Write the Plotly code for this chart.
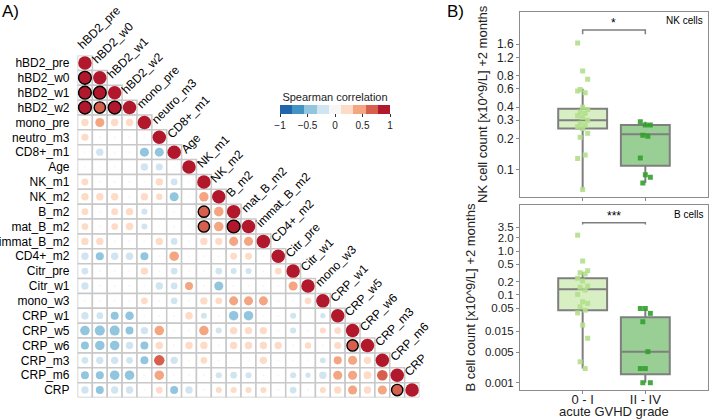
import math
import plotly.graph_objects as go

# ---- panel A: spearman correlation matrix (lower triangle) ----
labels = ["hBD2_pre", "hBD2_w0", "hBD2_w1", "hBD2_w2", "mono_pre", "neutro_m3",
          "CD8+_m1", "Age", "NK_m1", "NK_m2", "B_m2", "mat_B_m2", "immat_B_m2",
          "CD4+_m2", "Citr_pre", "Citr_w1", "mono_w3", "CRP_w1", "CRP_w5",
          "CRP_w6", "CRP_m3", "CRP_m6", "CRP"]

# row i holds the correlations with columns 0..i-1 (the diagonal is 1)
corr_rows = [
    [],
    [0.9],
    [0.9, 0.9],
    [0.9, 0.7, 0.9],
    [0.3, 0.45, 0.3, 0.3],
    [0.28, 0.03, 0.03, 0.03, 0.03],
    [0.03, -0.3, 0.03, 0.03, -0.45, -0.45],
    [0.02, 0.02, 0.02, 0.02, -0.3, -0.28, 0.02],
    [0.25, 0.03, 0.03, 0.03, 0.03, 0.3, -0.25, 0.02],
    [0.3, 0.3, 0.3, 0.04, 0.3, 0.22, -0.45, 0.02, 0.5],
    [0.25, 0.03, 0.25, 0.3, -0.2, 0.02, 0.03, 0.02, 0.7, 0.5],
    [0.25, 0.03, 0.25, 0.3, -0.2, 0.02, 0.03, 0.02, 0.7, 0.5, 0.9],
    [0.3, 0.3, 0.03, 0.03, 0.03, 0.3, -0.25, 0.03, 0.3, 0.28, 0.45, 0.45],
    [-0.3, -0.35, -0.3, -0.3, -0.35, 0.03, 0.5, 0.03, 0.03, 0.03, 0.25, 0.25, 0.03],
    [-0.25, 0.03, 0.03, 0.03, 0.3, 0.03, -0.25, 0.03, 0.03, -0.25, -0.2, -0.2, 0.03, 0.25],
    [-0.3, 0.03, 0.03, 0.03, 0.03, -0.3, -0.25, 0.35, 0.03, -0.45, 0.03, 0.03, 0.03, 0.03, 0.45],
    [0.03, 0.03, 0.03, 0.03, 0.25, 0.03, -0.25, 0.03, 0.3, 0.25, 0.45, 0.45, 0.45, 0.03, 0.03, 0.25],
    [-0.3, -0.25, -0.35, -0.4, 0.03, 0.03, 0.03, 0.3, -0.2, 0.03, -0.5, -0.5, 0.03, 0.03, -0.2, 0.02, -0.15],
    [-0.5, -0.55, -0.55, -0.35, -0.3, 0.5, 0.03, 0.03, 0.5, -0.2, 0.3, 0.3, 0.3, 0.03, -0.2, 0.03, 0.2, 0.25],
    [-0.35, -0.5, -0.5, -0.3, -0.35, 0.3, 0.03, 0.3, 0.3, 0.03, 0.3, 0.3, 0.3, 0.3, 0.03, 0.22, 0.03, 0.28, 0.7],
    [-0.25, -0.3, -0.3, -0.25, -0.35, 0.6, -0.3, 0.03, 0.25, 0.03, 0.02, 0.03, 0.3, 0.03, 0.03, 0.03, -0.18, 0.36, 0.45, 0.3],
    [-0.35, -0.35, -0.5, -0.5, 0.03, 0.5, 0.03, 0.03, 0.03, -0.2, -0.25, -0.2, 0.03, 0.03, -0.2, -0.15, -0.3, 0.45, 0.45, 0.33, 0.62],
    [-0.3, -0.35, -0.3, -0.3, 0.03, 0.25, -0.35, -0.3, 0.03, 0.2, 0.2, 0.2, 0.2, 0.03, -0.25, 0.03, 0.2, 0.3, 0.45, 0.3, 0.45, 0.7],
]
sig_cells = [(1, 0), (2, 0), (2, 1), (3, 0), (3, 1), (3, 2), (10, 8), (11, 8),
             (11, 10), (19, 18), (22, 21)]

bin_colors = ["#2166ac", "#4393c3", "#92c5de", "#d1e5f0", "#f7f7f7",
              "#fddbc7", "#f4a582", "#d6604d", "#b2182b"]
cbar_ticks = [-1, -0.5, 0, 0.5, 1]

# ---- panel B: cell counts by acute GVHD grade ----
groups = ["0 - I", "II - IV"]
nk_low = [1.65, 0.89, 0.74, 0.59, 0.55, 0.57, 0.4, 0.38, 0.36, 0.35, 0.33, 0.32,
          0.3, 0.28, 0.27, 0.26, 0.25, 0.225, 0.206, 0.139, 0.129, 0.065]
nk_high = [0.29, 0.27, 0.27, 0.215, 0.21, 0.13, 0.09, 0.085, 0.075]
b_low = [2.3, 0.59, 0.356, 0.32, 0.3, 0.24, 0.207, 0.16, 0.149, 0.129, 0.103,
         0.07, 0.064, 0.054, 0.045, 0.039, 0.0206, 0.0103, 0.003, 0.0021]
b_high = [0.049, 0.049, 0.038, 0.0245, 0.0051, 0.0021, 0.0021, 0.001, 0.001]

nk_q1, nk_med, nk_q3 = [0.25, 0.11], [0.30, 0.22], [0.386, 0.27]
nk_lo, nk_hi = [0.065, 0.075], [0.6, 0.29]
b_q1, b_med, b_q3 = [0.045, 0.00155], [0.134, 0.0051], [0.239, 0.031]
b_lo, b_hi = [0.0021, 0.001], [0.33, 0.049]

nk_ticks = [0.1, 0.2, 0.3, 0.4, 0.6, 0.8, 1.2, 1.6]
b_ticks = [0.001, 0.005, 0.015, 0.05, 0.1, 0.2, 0.5, 1.0, 2.0, 3.5]
b_ticktext = ["0.001", "0.005", "0.015", "0.05", "0.1", "0.2", "0.5", "1.0", "2.0", "3.5"]

light_green = "#b2df8a"
dark_green = "#33a02c"
FONT = "Arial"

fig = go.Figure()

# grid cells
n = len(labels)
shapes = []
for i in range(n):
    for j in range(i + 1):
        shapes.append(dict(type="rect", xref="x", yref="y",
                           x0=j - 0.5, x1=j + 0.5, y0=i - 0.5, y1=i + 0.5,
                           line=dict(color="#c8c8c8", width=1.5),
                           fillcolor="white", layer="below"))

xs, ys, vals, sizes, lw = [], [], [], [], []
for i, row in enumerate(corr_rows):
    for j, v in enumerate(row + [1.0]):
        xs.append(j)
        ys.append(i)
        vals.append(v)
        sizes.append(13.5 * abs(v) ** 0.5)
        lw.append(1.4 if (i, j) in sig_cells else 0)

cscale = []
nb = len(bin_colors)
for k, c in enumerate(bin_colors):
    cscale.append([k / nb, c])
    cscale.append([(k + 1) / nb, c])

fig.add_trace(go.Scatter(
    x=xs, y=ys, mode="markers", xaxis="x", yaxis="y", showlegend=False,
    marker=dict(size=sizes, color=vals, colorscale=cscale, cmin=-1, cmax=1,
                line=dict(width=lw, color="black"), opacity=1,
                colorbar=dict(orientation="h", x=0.4725, xanchor="center",
                              y=0.777, yanchor="top", len=110, lenmode="pixels",
                              thickness=9, ypad=0, xpad=0, outlinewidth=0,
                              tickvals=cbar_ticks, ticktext=["\u22121", "\u22120.5", "0", "0.5", "1"],
                              ticks="outside", ticklen=3, tickcolor="#333",
                              tickfont=dict(size=10, family=FONT, color="#222"),
                              title=dict(text="Spearman correlation", side="top",
                                         font=dict(size=11, family=FONT, color="#222"))),
                showscale=True),
    hoverinfo="skip"))

annotations = []
for j, lab in enumerate(labels):
    annotations.append(dict(x=j - 0.35, y=j - 0.5, xref="x", yref="y", text=lab,
                            showarrow=False, textangle=-45, xanchor="left",
                            yanchor="bottom", xshift=-8, yshift=1,
                            font=dict(size=12, family=FONT, color="black")))

# box plots
jit = [((k * 7) % 5 - 2) * 0.04 for k in range(30)]


def add_panel(xa, ya, low, high, q1, med, q3, lo, hi):
    for g, (pts, col, fill) in enumerate([(low, light_green, "rgba(178,223,138,0.5)"),
                                          (high, dark_green, "rgba(51,160,44,0.5)")]):
        fig.add_trace(go.Box(x=[g], q1=[q1[g]], median=[med[g]], q3=[q3[g]],
                             lowerfence=[lo[g]], upperfence=[hi[g]],
                             xaxis=xa, yaxis=ya, width=0.78, fillcolor=fill,
                             line=dict(color="#7f7f7f", width=2), whiskerwidth=0,
                             boxpoints=False, showlegend=False, hoverinfo="skip"))
        fig.add_trace(go.Scatter(x=[g + jit[k] for k in range(len(pts))], y=pts,
                                 mode="markers", xaxis=xa, yaxis=ya, showlegend=False,
                                 marker=dict(symbol="square", size=5, color=col, opacity=0.9),
                                 hoverinfo="skip"))


add_panel("x2", "y2", nk_low, nk_high, nk_q1, nk_med, nk_q3, nk_lo, nk_hi)
add_panel("x3", "y3", b_low, b_high, b_q1, b_med, b_q3, b_lo, b_hi)

# significance brackets
for xa, ya, ybot, ytop, star in [("x2", "y2", 2.0, 2.19, "*"), ("x3", "y3", 4.0, 4.4, "***")]:
    fig.add_trace(go.Scatter(x=[0, 0, 1, 1], y=[ybot, ytop, ytop, ybot], mode="lines",
                             xaxis=xa, yaxis=ya, showlegend=False, hoverinfo="skip",
                             line=dict(color="#7f7f7f", width=1.5)))
    # annotation positions on a log axis are given in log10 units
    annotations.append(dict(x=0.5, y=math.log10(ytop), xref=xa, yref=ya, text=star,
                            showarrow=False, yanchor="bottom", yshift=-2,
                            font=dict(size=12, family=FONT, color="black")))

annotations.append(dict(x=0.995, y=0.968, xref="paper", yref="paper", text="NK cells",
                        showarrow=False, xanchor="right", yanchor="top",
                        font=dict(size=10, family=FONT, color="black")))
annotations.append(dict(x=0.995, y=0.506, xref="paper", yref="paper", text="B cells",
                        showarrow=False, xanchor="right", yanchor="top",
                        font=dict(size=10, family=FONT, color="black")))
annotations.append(dict(x=0.0, y=1.0, xref="paper", yref="paper", text="A)",
                        showarrow=False, xanchor="left", yanchor="top",
                        font=dict(size=17, family=FONT, color="black")))
annotations.append(dict(x=0.628, y=1.0, xref="paper", yref="paper", text="B)",
                        showarrow=False, xanchor="left", yanchor="top",
                        font=dict(size=17, family=FONT, color="black")))
# x-axis title of panel B, kept just under the tick labels
annotations.append(dict(x=0.866, y=0.0, xref="paper", yref="paper", text="acute GVHD grade",
                        showarrow=False, xanchor="center", yanchor="bottom", yshift=-2,
                        font=dict(size=13, family=FONT, color="#222")))

frame = dict(showline=True, linecolor="#8c8c8c", linewidth=1, mirror=True,
             showgrid=False, zeroline=False, ticks="outside", ticklen=3,
             tickcolor="#8c8c8c", automargin=False)

fig.update_layout(
    width=709, height=419, margin=dict(l=0, r=0, t=0, b=0, autoexpand=False),
    paper_bgcolor="white", plot_bgcolor="white",
    font=dict(family=FONT, color="black"),
    shapes=shapes, annotations=annotations,
    xaxis=dict(domain=[0.1093, 0.5917], range=[-0.5, 22.5], visible=False,
               automargin=False),
    yaxis=dict(domain=[0.0513, 0.8675], range=[22.5, -0.5], showgrid=False,
               zeroline=False, showline=False, ticks="", tickmode="array",
               tickvals=list(range(n)), ticktext=labels, ticklabelstandoff=7,
               automargin=False,
               tickfont=dict(size=12, family=FONT, color="black")),
    xaxis2=dict(domain=[0.7334, 0.9986], range=[-1, 2], anchor="y2",
                tickvals=[0, 1], showticklabels=False, **frame),
    yaxis2=dict(domain=[0.5298, 0.972], type="log", range=[-1.259, 0.516], anchor="x2",
                tickvals=nk_ticks, ticktext=[str(t) for t in nk_ticks],
                tickfont=dict(size=12, color="#222"),
                title=dict(text="NK cell count [x10^9/L] +2 months",
                           font=dict(size=13, color="#222"), standoff=6), **frame),
    xaxis3=dict(domain=[0.7334, 0.9986], range=[-1, 2], anchor="y3",
                tickvals=[0, 1], ticktext=groups, tickfont=dict(size=13, color="#222"),
                ticklabelstandoff=-6, **frame),
    yaxis3=dict(domain=[0.0692, 0.5107], type="log", range=[-3.166, 1.048], anchor="x3",
                tickvals=b_ticks, ticktext=b_ticktext,
                tickfont=dict(size=11.5, color="#222"),
                title=dict(text="B cell count [x10^9/L] +2 months",
                           font=dict(size=13, color="#222"), standoff=6), **frame),
)

# the page body has a default 8px margin; drop it so the figure fills the window
fig.write_html("out.html", config={"displayModeBar": False},
               post_script="document.body.style.margin='0px';")
